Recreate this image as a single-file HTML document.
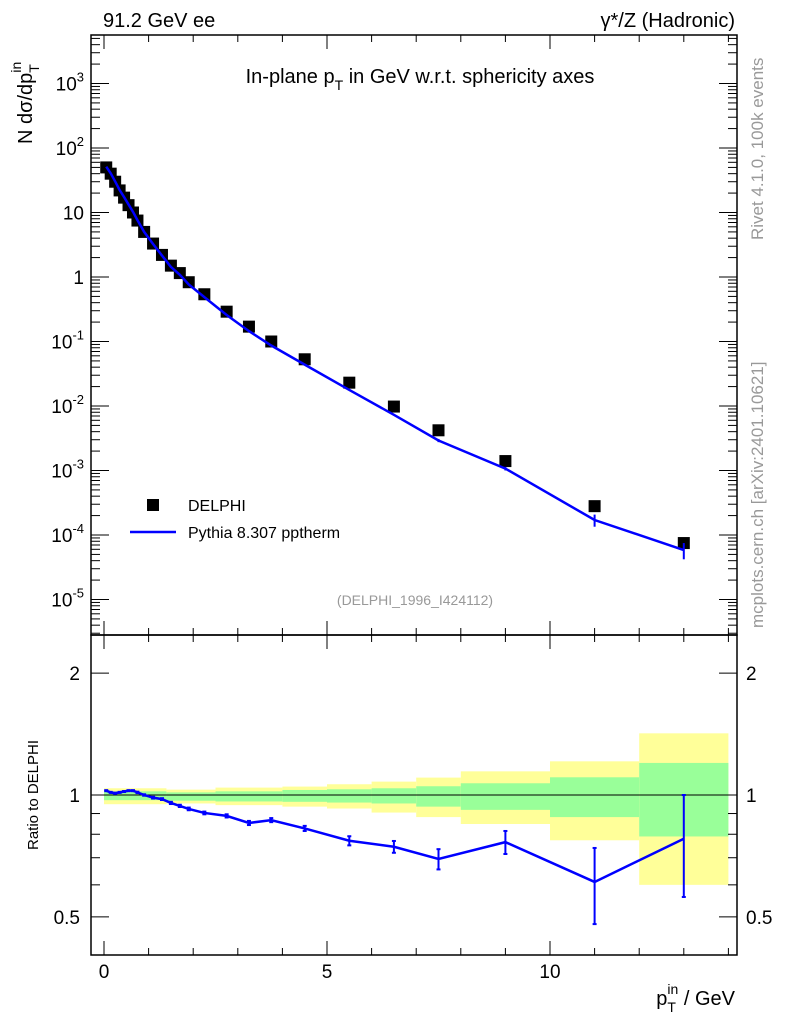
<!DOCTYPE html>
<html><head><meta charset="utf-8"><style>
body{margin:0;background:#fff}
svg{display:block;font-family:"Liberation Sans",sans-serif}
</style></head><body>
<svg id="c" width="786" height="1024" viewBox="0 0 786 1024" xmlns="http://www.w3.org/2000/svg">
<rect width="786" height="1024" fill="#fff"/>
<g id="bands"></g>
<g id="axes"></g>
<g id="marks"></g>
<text x="103" y="27" font-size="20">91.2 GeV ee</text>
<text x="735" y="27" font-size="20" text-anchor="end">γ*/Z (Hadronic)</text>
<text x="420" y="83" font-size="20" text-anchor="middle">In-plane p<tspan font-size="14" dy="7">T</tspan><tspan dy="-7"> in GeV w.r.t. sphericity axes</tspan></text>
<text transform="translate(32,144) rotate(-90)" font-size="20">N  dσ/dp<tspan font-size="14" dy="7">T</tspan><tspan font-size="14" dy="-18" dx="-8">in</tspan></text>
<text transform="translate(763,240) rotate(-90)" font-size="17" fill="#999">Rivet 4.1.0,  100k events</text>
<text transform="translate(763,628) rotate(-90)" font-size="17" fill="#999">mcplots.cern.ch [arXiv:2401.10621]</text>
<text x="415" y="605" font-size="14" fill="#999" text-anchor="middle">(DELPHI_1996_I424112)</text>
<rect x="147" y="499" width="12" height="12" fill="#000"/>
<text x="188" y="511" font-size="16">DELPHI</text>
<line x1="130" y1="532" x2="176" y2="532" stroke="#00f" stroke-width="2.5"/>
<text x="188" y="538" font-size="16">Pythia 8.307 pptherm</text>
<text transform="translate(38,795) rotate(-90)" font-size="15" text-anchor="middle">Ratio to DELPHI</text>
<text x="735" y="1005" font-size="20" text-anchor="end">p<tspan font-size="14" dy="7">T</tspan><tspan font-size="14" dy="-18" dx="-8">in</tspan><tspan dy="11"> / GeV</tspan></text>
</svg>
<script>
const xs=[0.05,0.15,0.25,0.35,0.45,0.55,0.65,0.75,0.9,1.1,1.3,1.5,1.7,1.9,2.25,2.75,3.25,3.75,4.5,5.5,6.5,7.5,9,11,13];
const dataY=[50,40,30,22,17,13,10,7.5,5,3.3,2.2,1.5,1.15,0.83,0.54,0.29,0.17,0.1,0.053,0.023,0.0098,0.0042,0.0014,2.8e-4,7.5e-5];
const ratio=[1.025,1.015,1.01,1.015,1.02,1.025,1.025,1.015,1.0,0.985,0.977,0.956,0.94,0.924,0.903,0.888,0.853,0.867,0.827,0.771,0.745,0.695,0.765,0.61,0.78];
const ratioErr=[0.003,0.003,0.003,0.003,0.003,0.003,0.003,0.004,0.004,0.005,0.005,0.006,0.006,0.007,0.007,0.008,0.01,0.01,0.012,0.02,0.025,0.04,0.05,0.13,0.22];
const bandEdges=[0,1.4,2.5,4,5,6,7,8,10,12,14];
const yelHi=[1.039,1.031,1.043,1.049,1.063,1.079,1.104,1.144,1.211,1.42];
const yelLo=[0.949,0.953,0.944,0.936,0.926,0.905,0.882,0.848,0.773,0.60];
const grnHi=[1.021,1.015,1.021,1.029,1.033,1.039,1.051,1.069,1.106,1.2];
const grnLo=[0.971,0.968,0.964,0.962,0.958,0.953,0.936,0.919,0.882,0.79];
const xTicks=[0,5,10];
const yMain=[-5,-4,-3,-2,-1,0,1,2,3];
const yRatio=[0.5,1,2];

const NS="http://www.w3.org/2000/svg";
const L=91,R=737,T=35,MB=635,RB=955;
const X=v=>104+44.6*v;
const Y=v=>277-64.5*Math.log10(v);
const YR=v=>795-405*Math.log10(v);
function mk(tag,attrs,parent){const e=document.createElementNS(NS,tag);for(const k in attrs)e.setAttribute(k,attrs[k]);parent.appendChild(e);return e;}
const bands=document.getElementById('bands'),axes=document.getElementById('axes'),marks=document.getElementById('marks');

for(let i=0;i<bandEdges.length-1;i++){
  const x1=X(bandEdges[i]),x2=X(bandEdges[i+1]);
  let r=mk('rect',{x:x1,y:YR(yelHi[i]),width:x2-x1,height:YR(yelLo[i])-YR(yelHi[i]),fill:'#ffff99'},bands);
  
  
  r=mk('rect',{x:x1,y:YR(grnHi[i]),width:x2-x1,height:YR(grnLo[i])-YR(grnHi[i]),fill:'#99ff99'},bands);
  
  
}
mk('rect',{x:L,y:T,width:R-L,height:MB-T,fill:'none',stroke:'#000','stroke-width':1.5},axes);
mk('rect',{x:L,y:MB,width:R-L,height:RB-MB,fill:'none',stroke:'#000','stroke-width':1.5},axes);
mk('line',{x1:L,x2:R,y1:YR(1),y2:YR(1),stroke:'#000','stroke-width':1},axes);
for(let v=0;v<=14;v+=1){const len=(v%5==0)?14:7;const x=X(v);
  [[T,T+len],[MB,MB-len],[MB,MB+len],[RB,RB-len]].forEach(p=>mk('line',{x1:x,x2:x,y1:p[0],y2:p[1],stroke:'#000','stroke-width':1},axes));}
xTicks.forEach(v=>{const t=mk('text',{x:X(v),y:978,'font-size':19,'text-anchor':'middle'},axes);t.textContent=v;
  
  });
for(let e=-6;e<=3;e++){for(let m=1;m<10;m++){const v=m*Math.pow(10,e);const y=Y(v);if(y<T||y>MB)continue;const len=m==1?18:9;
  mk('line',{x1:L,x2:L+len,y1:y,y2:y,stroke:'#000'},axes);mk('line',{x1:R,x2:R-len,y1:y,y2:y,stroke:'#000'},axes);}}
yMain.forEach(e=>{const y=Y(Math.pow(10,e));const t=mk('text',{x:84,y:y+7,'font-size':19,'text-anchor':'end'},axes);
  
  
  if(e==0)t.textContent='1';else if(e==1)t.textContent='10';
  else{t.textContent='10';const s=mk('tspan',{'font-size':13,dy:-9},t);s.textContent=e;}});
[0.5,0.6,0.7,0.8,0.9,1,2].forEach(v=>{const y=YR(v);const len=(v==0.5||v==1||v==2)?18:9;
  mk('line',{x1:L,x2:L+len,y1:y,y2:y,stroke:'#000'},axes);mk('line',{x1:R,x2:R-len,y1:y,y2:y,stroke:'#000'},axes);});
yRatio.forEach(v=>{const y=YR(v);
  let t=mk('text',{x:80,y:y+7,'font-size':19,'text-anchor':'end'},axes);t.textContent=v;
  
  
  t=mk('text',{x:746,y:y+7,'font-size':19},axes);t.textContent=v;
  
  });
xs.forEach((x,i)=>{const r=mk('rect',{x:X(x)-6,y:Y(dataY[i])-6,width:12,height:12,fill:'#000'},marks);
  
  });
const mc=xs.map((x,i)=>dataY[i]*ratio[i]);
let p=mk('polyline',{points:xs.map((x,i)=>X(x)+','+Y(mc[i])).join(' '),fill:'none',stroke:'#00f','stroke-width':2.5},marks);


xs.forEach((x,i)=>{if(ratioErr[i]<0.03)return;const e=ratioErr[i]/ratio[i];
  const l=mk('line',{x1:X(x),x2:X(x),y1:Y(mc[i]*(1+e)),y2:Y(mc[i]*(1-e)),stroke:'#00f','stroke-width':2},marks);
  
  });
p=mk('polyline',{points:xs.map((x,i)=>X(x)+','+YR(ratio[i])).join(' '),fill:'none',stroke:'#00f','stroke-width':2.5},marks);


xs.forEach((x,i)=>{const x0=X(x),y1=YR(ratio[i]+ratioErr[i]),y2=YR(ratio[i]-ratioErr[i]);
  const g=mk('g',{stroke:'#00f','stroke-width':2},marks);
  
  
  mk('line',{x1:x0,x2:x0,y1:y1,y2:y2},g);
  mk('line',{x1:x0-2,x2:x0+2,y1:y1,y2:y1},g);mk('line',{x1:x0-2,x2:x0+2,y1:y2,y2:y2},g);});
</script>
</body></html>
